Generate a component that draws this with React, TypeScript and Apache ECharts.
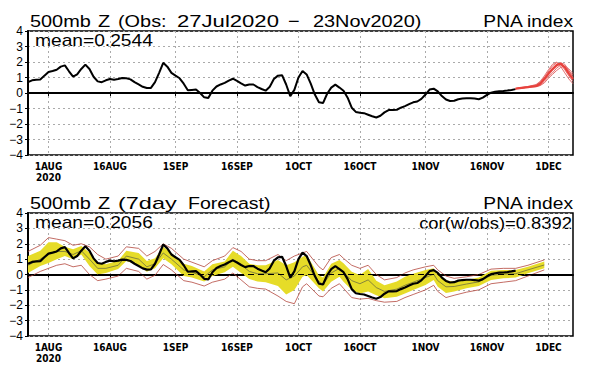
import React, { useEffect, useRef } from "react";
import * as echarts from "echarts";

// x axis: one category per day, day 0 = 27 Jul 2020 ... day 133 = 7 Dec 2020
const dayCount = 134;
const tickDays = [5, 20, 36, 51, 66, 81, 97, 112, 127];
const tickLabels = ["1AUG\n2020", "16AUG", "1SEP", "16SEP", "1OCT", "16OCT", "1NOV", "16NOV", "1DEC"];
const yTicks = [-4, -3, -2, -1, 0, 1, 2, 3, 4];

// observed PNA index, daily from 27 Jul (day 0) to 23 Nov (day 119)
const obsValues = [
  0.7, 0.82, 0.85, 0.87, 1.12, 1.36, 1.42, 1.5, 1.7, 1.78,
  1.4, 1.05, 1.2, 1.55, 1.83, 1.55, 1.05, 0.75, 0.7, 0.82,
  0.9, 0.86, 0.9, 0.97, 0.95, 0.88, 0.7, 0.55, 0.4, 0.32,
  0.33, 0.7, 1.3, 1.95, 1.7, 1.3, 1.12, 0.95, 0.6, 0.18,
  0.2, 0.22, 0.0, -0.28, -0.32, 0.15, 0.42, 0.55, 0.65, 0.8,
  0.92, 0.78, 0.62, 0.48, 0.55, 0.55, 0.38, 0.26, 0.15, 0.4,
  0.9, 1.12, 1.15, 0.55, -0.2, 0.2, 1.0, 1.42, 1.2, 0.6,
  -0.1, -0.6, -0.65, -0.05, 0.35, 0.54, 0.35, 0.15, -0.3, -0.95,
  -1.22, -1.27, -1.3, -1.4, -1.5, -1.58, -1.47, -1.25, -1.1, -1.1,
  -1.08, -0.95, -0.85, -0.72, -0.6, -0.55, -0.38, -0.1, 0.22, 0.28,
  0.1, -0.2, -0.42, -0.52, -0.5, -0.4, -0.36, -0.34, -0.34, -0.36,
  -0.4, -0.3, -0.12, 0.02, 0.08, 0.12, 0.13, 0.16, 0.2, 0.25,
];

// ensemble forecast members, days 119..133
const ensDays = [119, 120, 121, 122, 123, 124, 125, 126, 127, 128, 129, 130, 131, 132, 133];
const ens1 = [0.28, 0.32, 0.35, 0.38, 0.42, 0.45, 0.6, 0.9, 1.25, 1.55, 1.8, 1.9, 1.65, 1.25, 0.9];
const ens2 = [0.28, 0.3, 0.33, 0.4, 0.45, 0.5, 0.7, 1.0, 1.4, 1.75, 1.95, 1.85, 1.5, 1.1, 0.75];
const ens3 = [0.28, 0.33, 0.36, 0.37, 0.4, 0.42, 0.5, 0.75, 1.05, 1.3, 1.6, 1.8, 1.7, 1.4, 1.15];
const ens4 = [0.28, 0.34, 0.38, 0.42, 0.48, 0.55, 0.75, 1.1, 1.5, 1.85, 2.0, 1.7, 1.3, 0.9, 0.6];
const ens5 = [0.28, 0.31, 0.34, 0.36, 0.38, 0.4, 0.48, 0.65, 0.95, 1.2, 1.45, 1.65, 1.75, 1.55, 1.25];
const ens6 = [0.28, 0.32, 0.35, 0.39, 0.43, 0.47, 0.62, 0.85, 1.15, 1.45, 1.7, 1.95, 1.85, 1.45, 1.0];
const ensMembers = [ens1, ens2, ens3, ens4, ens5, ens6];

// 7-day forecast verification
const fcDays = [
  0, 3, 5, 7, 9, 11, 13, 15, 17, 19,
  22, 24, 27, 29, 31, 33, 35, 38, 40, 43,
  45, 48, 50, 52, 54, 56, 58, 61, 63, 65,
  67, 68, 71, 72, 74, 76, 77, 79, 81, 83,
  85, 87, 90, 92, 94, 97, 99, 100, 102, 104,
  107, 110, 113, 116, 119, 122, 126,
];
const bandHi = [
  1.2, 1.54, 2.1, 2.1, 1.8, 1.65, 1.85, 1.43, 0.77, 0.66,
  0.9, 1.54, 1.4, 0.88, 1.05, 1.8, 1.4, 0.7, 0.55, 0.2,
  0.66, 0.85, 1.55, 1.2, 0.7, 0.6, 0.6, 0.95, 0.6, 0.8,
  1.16, 1.27, -0.05, -0.2, 0.7, 0.95, 0.73, 0.18, -0.03, 0.35,
  -0.4, -0.7, -0.45, -0.14, 0.05, 0.3, 0.4, -0.03, -0.38, -0.47,
  -0.35, -0.2, 0.25, 0.3, 0.3, 0.5, 0.85,
];
const bandLo = [
  0.1, 0.55, 0.75, 1.0, 1.2, 1.0, 1.3, 0.55, 0.0, 0.1,
  0.35, 0.88, 0.6, 0.18, 0.4, 1.05, 0.66, -0.1, -0.2, -0.46,
  -0.1, 0.15, 0.5, 0.1, -0.3, -0.45, -0.5, -0.75, -1.3, -1.0,
  -0.14, -0.03, -0.9, -1.1, -0.47, -0.14, -0.47, -1.0, -1.23, -1.1,
  -1.35, -1.55, -1.45, -1.23, -1.0, -0.68, -0.36, -0.8, -1.2, -1.1,
  -0.9, -0.75, -0.36, -0.25, -0.2, 0.08, 0.4,
];
const fcMean = [
  0.6, 1.0, 1.35, 1.5, 1.5, 1.3, 1.55, 1.0, 0.4, 0.4,
  0.6, 1.2, 1.0, 0.5, 0.7, 1.4, 1.0, 0.3, 0.15, -0.15,
  0.3, 0.5, 1.0, 0.65, 0.2, 0.05, 0.05, 0.1, -0.35, -0.1,
  0.5, 0.6, -0.45, -0.65, 0.1, 0.4, 0.15, -0.4, -0.6, -0.35,
  -0.85, -1.1, -0.95, -0.7, -0.5, -0.2, 0.02, -0.4, -0.8, -0.78,
  -0.62, -0.48, -0.05, 0.02, 0.05, 0.3, 0.62,
];
const fcMax = [
  1.5, 1.9, 2.4, 2.3, 2.2, 1.9, 2.0, 1.8, 1.3, 1.0,
  1.2, 1.8, 1.7, 1.2, 1.5, 2.0, 1.7, 1.0, 0.8, 0.5,
  0.9, 1.2, 1.75, 1.5, 1.0, 0.9, 0.9, 1.3, 0.9, 1.2,
  1.4, 1.5, 0.5, 0.3, 1.1, 1.3, 1.05, 0.6, 0.4, 0.6,
  0.0, -0.35, -0.2, 0.1, 0.3, 0.5, 0.6, 0.3, -0.1, -0.25,
  -0.15, 0.0, 0.35, 0.4, 0.4, 0.6, 0.95,
];
const fcMin = [
  -0.2, 0.2, 0.4, 0.6, 0.7, 0.5, 0.6, 0.0, -0.4, -0.3,
  -0.1, 0.4, 0.2, -0.3, -0.05, 0.65, 0.3, -0.4, -0.5, -0.75,
  -0.5, -0.3, 0.1, -0.35, -0.8, -0.9, -0.95, -1.4, -1.75, -1.9,
  -0.8, -0.6, -1.4, -1.45, -0.9, -0.6, -0.9, -1.5, -1.6, -1.55,
  -1.7, -1.8, -1.75, -1.5, -1.3, -1.0, -0.7, -1.1, -1.5, -1.35,
  -1.15, -1.0, -0.6, -0.5, -0.4, -0.1, 0.3,
];

const topTitleParts = ["500mb", "Z", "(Obs:", "27Jul2020", "\u2212", "23Nov2020)"];
const bottomTitleParts = ["500mb", "Z", "(7day", "Forecast)"];
const indexName = "PNA index";
const topMean = "mean=0.2544";
const bottomMean = "mean=0.2056";
const corrText = "cor(w/obs)=0.8392";

const FONT = "DejaVu Sans";
const TFONT = "Liberation Sans";

function pairs(xs: number[], ys: number[]) {
  return xs.map((x, i) => [x, ys[i]]);
}

export default function App() {
  const ref = useRef<HTMLDivElement>(null);
  useEffect(() => {
    if (!ref.current) return;
    const chart = echarts.init(ref.current, undefined, { renderer: "svg" });
    const categories = Array.from({ length: dayCount }, (_, i) => String(i));
    const isTick = (i: number) => tickDays.includes(i);
    const makeX = (gridIndex: number) => ({
      type: "category",
      gridIndex,
      data: categories,
      boundaryGap: false,
      axisLine: { show: true, lineStyle: { color: "#000", width: 2 } },
      axisTick: { show: true, interval: isTick, length: 3, lineStyle: { color: "#000" } },
      axisLabel: {
        interval: isTick,
        formatter: (v: string) => {
          const k = tickDays.indexOf(Number(v));
          return k >= 0 ? tickLabels[k] : "";
        },
        color: "#000",
        fontSize: 10,
        fontWeight: "bold",
        fontFamily: "DejaVu Sans Condensed, DejaVu Sans",
        margin: 6,
        lineHeight: 11,
      },
      splitLine: { show: true, interval: isTick, lineStyle: { color: "#aaa", type: [2, 3], width: 1 } },
    });
    const makeY = (gridIndex: number) => ({
      type: "value",
      gridIndex,
      min: yTicks[0],
      max: yTicks[yTicks.length - 1],
      interval: 1,
      axisLine: { show: true, lineStyle: { color: "#000", width: 2 } },
      axisTick: { show: true, length: 3, lineStyle: { color: "#000" } },
      axisLabel: {
        formatter: (v: number) => (v < 0 ? "\u2212" + Math.abs(v) : String(v)),
        color: "#000",
        fontSize: 12,
        fontFamily: TFONT,
        margin: 5,
      },
      splitLine: { show: true, lineStyle: { color: "#aaa", type: [2, 3], width: 1 } },
    });
    const zeroLine = {
      silent: true,
      symbol: ["none", "none"],
      label: { show: false },
      lineStyle: { color: "#000", type: [6, 4], width: 1 },
      data: [{ yAxis: 0 }],
    };
    const topTitleX = [30, 98, 118, 177, 288, 313];
    const bottomTitleX = [30, 98, 118, 188];
    const bottomScale = [1.17, 1.17, 1.38, 1.15];
    const txt = (text: string, x: number, y: number, size: number, align = "left", sx = 1.17) => ({
      type: "text",
      x,
      y,
      scaleX: sx,
      style: { text, fill: "#000", font: `${size}px "${TFONT}"`, textAlign: align, textVerticalAlign: "middle" },
    });
    const graphic = [
      ...topTitleParts.map((t, i) => txt(t, topTitleX[i], 21, 17, "left", i === 3 ? 1.3 : 1.17)),
      txt(indexName, 573, 21, 17, "right", 1.13),
      txt(topMean, 35, 41, 16, "left", 1.2),
      ...bottomTitleParts.map((t, i) => txt(t, bottomTitleX[i], 203, 17, "left", bottomScale[i])),
      txt(indexName, 573, 203, 17, "right", 1.13),
      txt(bottomMean, 35, 223, 16, "left", 1.2),
      txt(corrText, 572, 223, 16, "right", 1.15),
    ];
    const ensColor = "#e8413c";
    const series: any[] = [
      {
        type: "line",
        xAxisIndex: 0,
        yAxisIndex: 0,
        data: obsValues,
        symbol: "none",
        lineStyle: { color: "#000", width: 2 },
        markLine: zeroLine,
        z: 5,
      },
      ...ensMembers.map((m, i) => ({
        type: "line",
        xAxisIndex: 0,
        yAxisIndex: 0,
        data: pairs(ensDays, m),
        symbol: "none",
        lineStyle: { color: i === 0 ? ensColor : "#e06060", width: i === 0 ? 2.2 : 0.9 },
        z: i === 0 ? 7 : 6,
      })),
      {
        type: "line",
        xAxisIndex: 1,
        yAxisIndex: 1,
        data: pairs(fcDays, bandLo),
        stack: "band",
        stackStrategy: "all",
        symbol: "none",
        lineStyle: { width: 0, opacity: 0 },
        z: 2,
      },
      {
        type: "line",
        xAxisIndex: 1,
        yAxisIndex: 1,
        data: fcDays.map((d, i) => [d, bandHi[i] - bandLo[i]]),
        stack: "band",
        stackStrategy: "all",
        symbol: "none",
        lineStyle: { width: 0, opacity: 0 },
        areaStyle: { color: "#e6dc28", opacity: 1 },
        z: 2,
      },
      {
        type: "line",
        xAxisIndex: 1,
        yAxisIndex: 1,
        data: pairs(fcDays, fcMax),
        symbol: "none",
        lineStyle: { color: "#b4463c", width: 0.8 },
        z: 3,
      },
      {
        type: "line",
        xAxisIndex: 1,
        yAxisIndex: 1,
        data: pairs(fcDays, fcMin),
        symbol: "none",
        lineStyle: { color: "#b4463c", width: 0.8 },
        z: 3,
      },
      {
        type: "line",
        xAxisIndex: 1,
        yAxisIndex: 1,
        data: pairs(fcDays, fcMean),
        symbol: "none",
        lineStyle: { color: "#6e6e40", width: 0.8 },
        z: 3,
      },
      {
        type: "line",
        xAxisIndex: 1,
        yAxisIndex: 1,
        data: obsValues,
        symbol: "none",
        lineStyle: { color: "#000", width: 2.2 },
        markLine: zeroLine,
        z: 5,
      },
    ];
    chart.setOption({
      animation: false,
      backgroundColor: "#fff",
      textStyle: { fontFamily: FONT },
      grid: [
        { left: 28, top: 31, width: 545, height: 124, show: true, borderColor: "#000", borderWidth: 1.5, backgroundColor: "transparent" },
        { left: 28, top: 213, width: 545, height: 123, show: true, borderColor: "#000", borderWidth: 1.5, backgroundColor: "transparent" },
      ],
      xAxis: [makeX(0), makeX(1)],
      yAxis: [makeY(0), makeY(1)],
      series,
      graphic,
    });
    return () => chart.dispose();
  }, []);
  return (
    <div
      ref={ref}
      style={{ position: "absolute", left: 0, top: 0, width: 600, height: 370, background: "#fff" }}
    />
  );
}
